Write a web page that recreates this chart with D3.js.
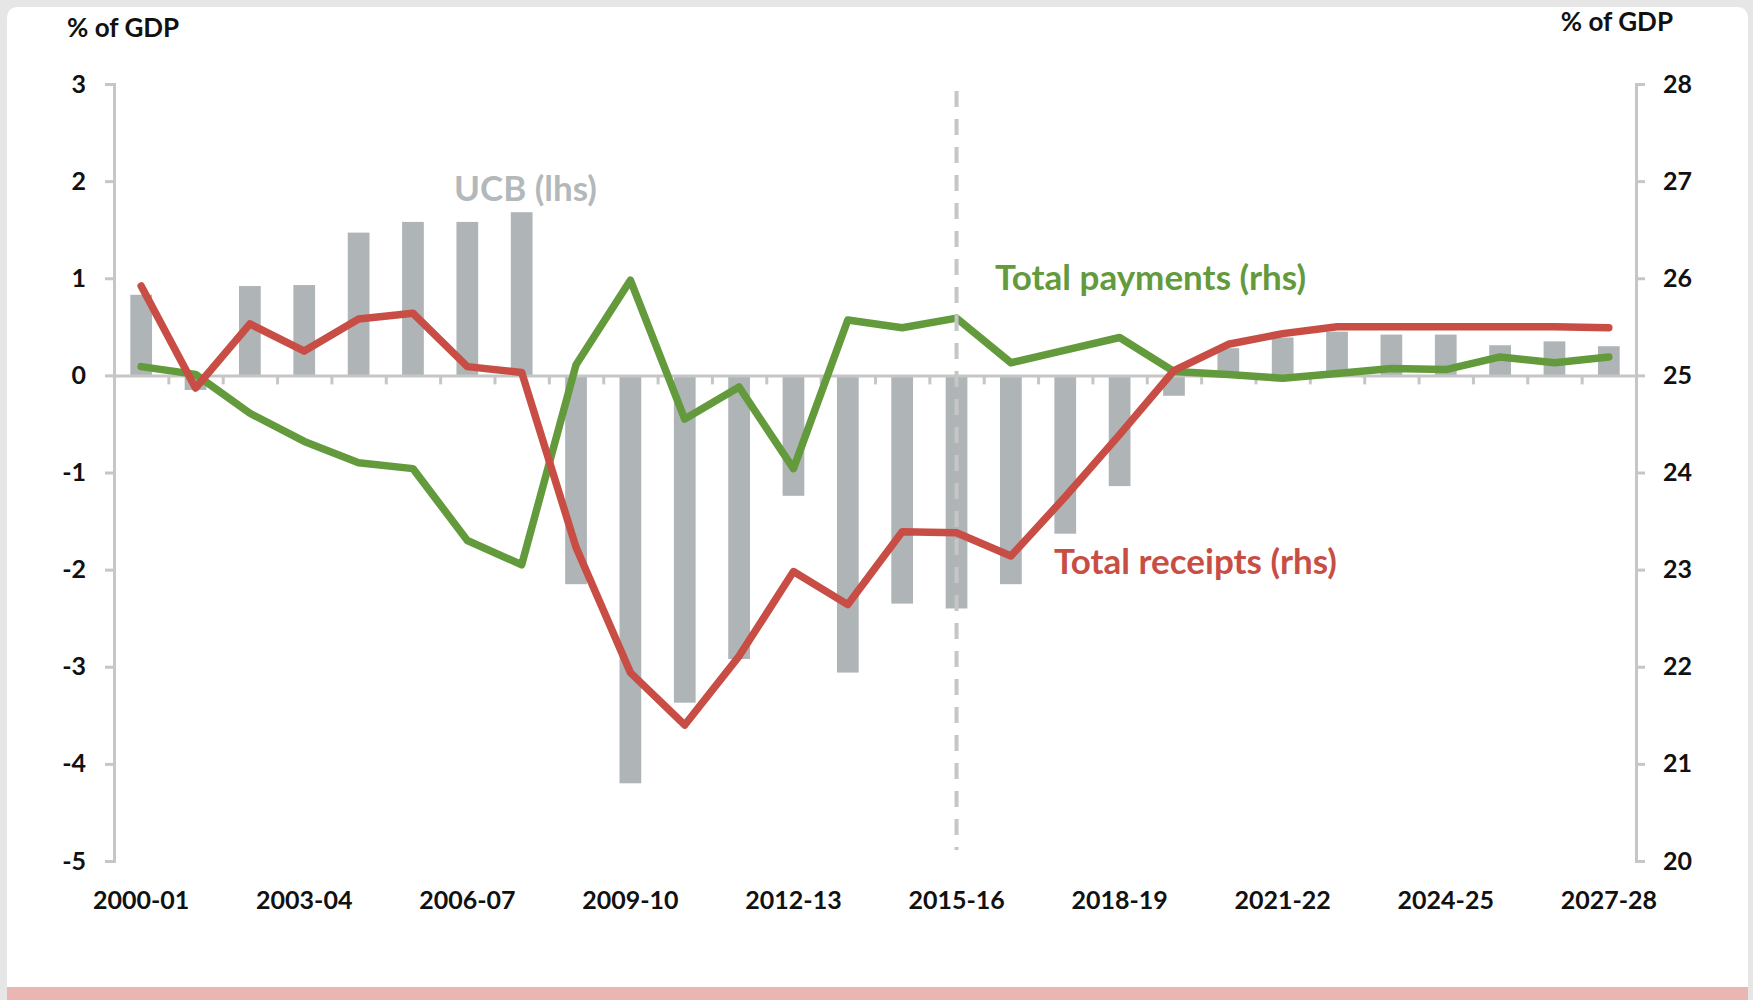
<!DOCTYPE html>
<html>
<head>
<meta charset="utf-8">
<script src="https://cdn.jsdelivr.net/npm/d3@7"></script>
<style>
  body { margin: 0; background: #e6e6e6; }
  svg { display: block; font-family: Lato, "Open Sans", sans-serif; font-weight: bold; }
</style>
</head>
<body>
<svg id="canvas" width="1753" height="1000"></svg>
<script>
// fiscal years on the x axis
const years = ["2000-01", "2001-02", "2002-03", "2003-04", "2004-05", "2005-06", "2006-07",
  "2007-08", "2008-09", "2009-10", "2010-11", "2011-12", "2012-13", "2013-14", "2014-15",
  "2015-16", "2016-17", "2017-18", "2018-19", "2019-20", "2020-21", "2021-22", "2022-23",
  "2023-24", "2024-25", "2025-26", "2026-27", "2027-28"];

// underlying cash balance, % of GDP (lhs)
const ucb = [0.83, -0.15, 0.92, 0.93, 1.47, 1.58, 1.58, 1.68, -2.15, -4.2, -3.37, -2.92, -1.24,
  -3.06, -2.35, -2.4, -2.15, -1.63, -1.14, -0.21, 0.28, 0.39, 0.45, 0.42, 0.42, 0.31, 0.35, 0.3];

// total receipts, % of GDP (rhs)
const receipts = [25.92, 24.87, 25.53, 25.25, 25.58, 25.64, 25.09, 25.03, 23.23, 21.94, 21.4,
  22.11, 22.98, 22.64, 23.39, 23.38, 23.14, 23.75, 24.39, 25.05, 25.32, 25.43, 25.5, 25.5,
  25.5, 25.5, 25.5, 25.49];

// total payments, % of GDP (rhs)
const payments = [25.09, 25.01, 24.61, 24.32, 24.1, 24.04, 23.3, 23.05, 25.11, 25.98, 24.55,
  24.88, 24.04, 25.57, 25.49, 25.59, 25.13, 25.26, 25.39, 25.04, 25.01, 24.97, 25.02, 25.07,
  25.06, 25.19, 25.13, 25.19];

// tick labels
const leftTicks = [3, 2, 1, 0, -1, -2, -3, -4, -5];
const rightTicks = [28, 27, 26, 25, 24, 23, 22, 21, 20];
const yearLabels = ["2000-01", "2003-04", "2006-07", "2009-10", "2012-13", "2015-16",
  "2018-19", "2021-22", "2024-25", "2027-28"];

const grey = "#afb4b7";
const green = "#639a3c";
const red = "#c84e45";
const axisGrey = "#c6c6c6";

const svg = d3.select("#canvas");

// card background and the pink strip at the bottom
svg.append("rect").attr("x", 7).attr("y", 7).attr("width", 1741).attr("height", 1100)
  .attr("rx", 10).attr("fill", "#fff");
svg.append("rect").attr("x", 7).attr("y", 987).attr("width", 1741).attr("height", 20)
  .attr("fill", "#e9b6b3");

const plotLeft = 114, plotRight = 1636, plotTop = 84, plotBottom = 861;

const x = d3.scaleBand().domain(years).range([plotLeft, plotRight]).paddingInner(0.6).paddingOuter(0.3);
const center = (year) => x(year) + x.bandwidth() / 2;

const yLeft = d3.scaleLinear().domain([-5, 3]).range([plotBottom, plotTop]);
const yRight = d3.scaleLinear().domain([20, 28]).range([plotBottom, plotTop]);

//bars of the UCB
svg.append("g")
  .selectAll("rect")
  .data(years)
  .enter()
  .append("rect")
  .attr("x", (d) => x(d))
  .attr("width", x.bandwidth())
  .attr("y", (d, i) => yLeft(Math.max(0, ucb[i])))
  .attr("height", (d, i) => Math.abs(yLeft(ucb[i]) - yLeft(0)))
  .attr("fill", grey);

//axis styling helper
const styleAxis = (g) => {
  g.selectAll("path, line").attr("stroke", axisGrey).attr("stroke-width", 3);
  g.selectAll("text").attr("fill", "#111").style("font-size", "25px");
  g.attr("font-family", null).attr("font-size", null);
};

//left axis
svg.append("g")
  .attr("transform", `translate(${plotLeft},0)`)
  .call(d3.axisLeft(yLeft).tickValues(leftTicks).tickSize(9).tickPadding(19).tickFormat((d) => String(d)))
  .call(styleAxis);

//right axis
svg.append("g")
  .attr("transform", `translate(${plotRight},0)`)
  .call(d3.axisRight(yRight).tickValues(rightTicks).tickSize(9).tickPadding(18).tickFormat((d) => String(d)))
  .call(styleAxis);

//zero line with small ticks between the years
const edges = d3.scaleLinear().domain([0, years.length]).range([plotLeft, plotRight]);
svg.append("g")
  .attr("transform", `translate(0,${yLeft(0)})`)
  .call(d3.axisBottom(edges).tickValues(d3.range(1, years.length)).tickSize(9).tickSizeOuter(0).tickFormat(""))
  .call(styleAxis);

//year labels under the plot
svg.append("g")
  .attr("transform", `translate(0,${plotBottom})`)
  .call(d3.axisBottom(x).tickValues(yearLabels).tickSize(0).tickPadding(30))
  .call((g) => g.select(".domain").remove())
  .call(styleAxis);

//lines
const line = (values) => d3.line()
  .x((d, i) => center(years[i]))
  .y((d) => yRight(d))(values);

svg.append("path")
  .attr("d", line(payments))
  .attr("fill", "none")
  .attr("stroke", green)
  .attr("stroke-width", 7.5)
  .attr("stroke-linejoin", "round")
  .attr("stroke-linecap", "round");

svg.append("path")
  .attr("d", line(receipts))
  .attr("fill", "none")
  .attr("stroke", red)
  .attr("stroke-width", 7.5)
  .attr("stroke-linejoin", "round")
  .attr("stroke-linecap", "round");

//dashed divider at 2015-16
svg.append("line")
  .attr("x1", center("2015-16")).attr("x2", center("2015-16"))
  .attr("y1", 91).attr("y2", 850)
  .attr("stroke", axisGrey)
  .attr("stroke-width", 4)
  .attr("stroke-dasharray", "16,12");

//titles and series labels
svg.append("text").attr("x", 67).attr("y", 37).attr("font-size", 26).attr("fill", "#111").text("% of GDP");
svg.append("text").attr("x", 1673).attr("y", 31).attr("font-size", 26).attr("fill", "#111")
  .attr("text-anchor", "end").text("% of GDP");

svg.append("text").attr("x", 454).attr("y", 201).attr("font-size", 35).attr("fill", "#b3b8bb").text("UCB (lhs)");
svg.append("text").attr("x", 995).attr("y", 290).attr("font-size", 35).attr("fill", green).text("Total payments (rhs)");
svg.append("text").attr("x", 1054).attr("y", 574).attr("font-size", 35).attr("fill", red).text("Total receipts (rhs)");
</script>
</body>
</html>
